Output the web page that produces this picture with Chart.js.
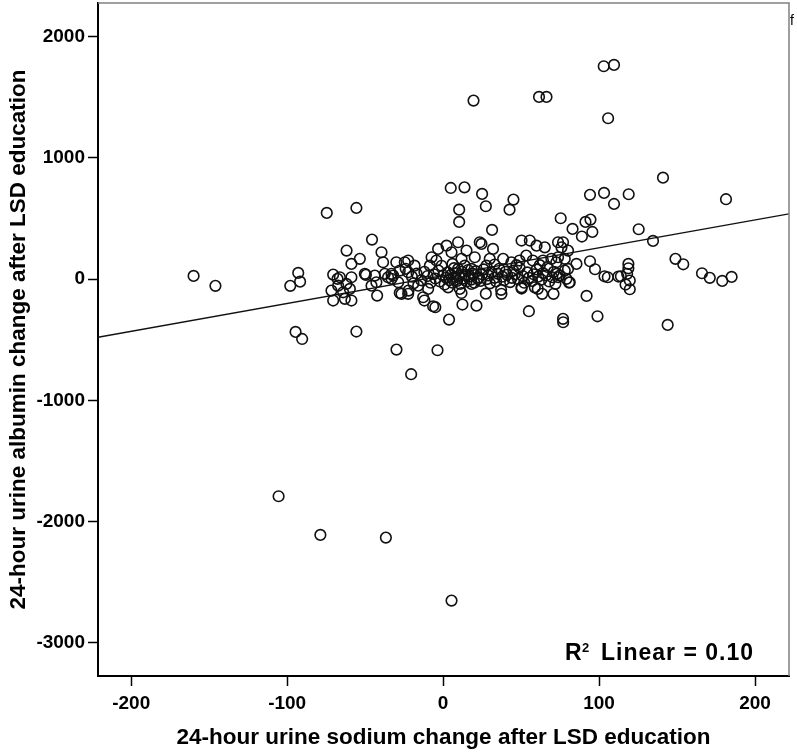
<!DOCTYPE html>
<html>
<head>
<meta charset="utf-8">
<script src="https://cdn.jsdelivr.net/npm/chart.js@4.4.1/dist/chart.umd.min.js"></script>
<style>
  html, body { margin: 0; padding: 0; background: #fff; }
  canvas { display: block; }
</style>
</head>
<body>
<canvas id="scatter" width="797" height="752"></canvas>
<script>
// tick labels
const xTicks = [-200, -100, 0, 100, 200];
const yTicks = [-3000, -2000, -1000, 0, 1000, 2000];

// 24-hour urine sodium change (x) and albumin change (y)
const sodium = [
  -160, -146, -105.5, -78.7, -36.7, 5.4,
  -98, -92.9, -91.7, -94.6, -90.4,
  -74.6, -55.6, -45.6, -61.9, -53.4, -58.8, -39.5, -38.5, -30, -24.6,
  -70.5, -66.2, -58.8, -50.2, -43.8, -37.4, -33.1, -27.8, -22.4,
  -67.3, -59.8, -71.6, -64.1,
  -45.9, -42.8, -33.1, -28.8, -26.7, -22.4,
  -70.5, -63, -58.8,
  -55.6, -42.3, -29.9, -20.5, -3.6, 3.8,
  -67.7, -62, -35.3, -32, -49.5,
  9.6, 2.2, -3.2, 5.4, 15, 20.3, 23.5, -7.4, -22.4, -18.3, -4.3, -8.5, 11.8, 13.9, 18.2, 9.6,
  -16, -9.6, 3.2, 10.7, 18.2, 22.4,
  -12.8, -12, -6.4, -5, 11.8, 12.4, 21.4, -27.8, -22.2,
  19.5, 61.5, 66.3, 103, 109.6, 105.8,
  4.9, 13.7, 25, 27.4, 10.3, 10.3, 45.1, 42.6, 31.4,
  94.2, 103.2, 109.6, 119, 141, 181.4,
  75.4, 83, 89, 91.3, 94.5, 95.7, 125.4, 134.6,
  149, 154, 166, 171, 179, 185,
  144, 99, 77, 55, 92,
  118.8, 118.8, 118, 119.7, 119.7, 117,
  103.5, 105.6, 112.4, 114,
  94.2, 97.4,
  27.4, 37.4, 37.2, 50.3, 63.5, 70.8, 60.7, 80.8, 85.5, 72,
  50.3, 55.6, 59.9, 65.2, 73.7, 24.6, 32, 29.9, 38.5, 43.8, 49, 53.3, 57.5, 64, 69.4, 72.6, 27.8,
  50.3, 58.8,
  76.9, 75.9, 80.1, 73.7, 78, 78, 80.1, 74.8, 73.7, 79.1, 81.2, 76.9,
  -20, -17, -14, -12, -10, -8, -6, -5, -3, -2, 0, 1, 2, 3, 4, 5, 6, 7, 8, 8,
  9, 10, 11, 12, 13, 14, 15, 16, 17, 18, 19, 20, 21, 23, 24, 25, 26, 28, 29, 30,
  31, 33, 34, 35, 36, 38, 39, 40, 41, 43, 44, 45, 46, 48, 49, 51, 52, 54, 55, 57,
  58, 60, 61, 63, 64, 66, 67, 68, 70, 71, 73, -24, -19, -1, 6, 33, 47, 62
];
const albumin = [
  26, -56, -1792, -2111, -2133, -2653,
  -56, 51, -21, -436, -494,
  546, 587, 326, 235, 167, 125, 221, 139, 139, 139,
  37, 15, 15, 43, 29, 43, 43, 70, 56,
  -54, -81, -95, -109,
  -54, -26, 2, -26, -122, -122,
  -177, -163, -177,
  -433, -136, -582, -785, -587, -334,
  2, -40, 15, 29, 35,
  304, 276, 249, 221, 235, 180, 304, 180, 153, 111, 153, 111, 167, 111, 84, 84,
  -54, -81, -68, -81, -40, 2,
  -150, -177, -224, -232, -115, -210, -219, -114, -95,
  1473, 1503, 1503, 1756, 1767, 1327,
  752, 757, 703, 601, 573, 472, 656, 573, 406,
  695, 711, 620, 700, 837, 659,
  502, 414, 351, 472, 491, 389, 411, 315,
  167, 122, 48, 10, -15, 18,
  -378, -307, -356, -265, -139,
  125, 89, 43, -12, -84, -45,
  23, 15, 21, 23,
  147, 81,
  -120, -122, -89, -78, -122, -122, -81, -29, 125, -40,
  318, 318, 276, 262, 304, 290, 249, 167, 167, 139, 153, 194, 153, 153, 167, 139, 111,
  -68, -68,
  304, 262, 235, 180, 167, 70, 84, 29, 15, 2, -26, -328,
  20, 45, -10, 60, 25, -30, 40, 5, 70, -20, 30, -45, 10, 55, -10, 35, -30, 90, 15, 50,
  -15, 25, -40, 60, 5, 35, -20, 75, 20, -5, 45, -30, 65, 15, -15, 40, 80, 0, 30, -35,
  55, 10, -20, 45, 85, 20, -10, 60, 35, -25, 10, 70, 40, 0, 95, 25, -30, 55, 10, -15,
  40, 80, 20, -5, 50, 30, 100, -20, 15, 60, 45, 85, -35, 110, 125, 120, 115, 115
];

// linear fit line ends (left and right edge of the plot)
const fitX = [-221.3, 221.8];
const fitY = [-480, 538];

const fontFamily = '"Liberation Sans", Arial, Helvetica, sans-serif';

const framePlugin = {
  id: 'frame',
  afterDraw(chart) {
    const { ctx, chartArea: a } = chart;
    ctx.save();
    // grey top and right edges of the box
    ctx.strokeStyle = '#808080';
    ctx.lineWidth = 1.5;
    ctx.beginPath();
    ctx.moveTo(a.left, a.top);
    ctx.lineTo(a.right, a.top);
    ctx.lineTo(a.right, a.bottom);
    ctx.stroke();

    // "R² Linear = 0.10" with a full-size superscript like SPSS draws it
    ctx.fillStyle = '#000';
    ctx.textBaseline = 'alphabetic';
    ctx.textAlign = 'left';
    ctx.font = 'bold 23px ' + fontFamily;
    ctx.fillText('R', 565, 660);
    ctx.font = 'bold 13px ' + fontFamily;
    ctx.fillText('2', 582, 652);
    ctx.font = 'bold 23px ' + fontFamily;
    ctx.textAlign = 'right';
    if ('letterSpacing' in ctx) ctx.letterSpacing = '1px';
    ctx.fillText('Linear = 0.10', 754, 660);
    if ('letterSpacing' in ctx) ctx.letterSpacing = '0px';

    ctx.font = '14px ' + fontFamily;
    ctx.textAlign = 'left';
    ctx.fillText('f', 790, 25);
    ctx.restore();
  }
};

function fixedTicks(values) {
  return scale => { scale.ticks = values.map(v => ({ value: v })); };
}

// keep the plot box where the figure has it: no extra room for label overhang
function fixedSize(prop, size) {
  return scale => {
    scale[prop] = size;
    scale.paddingTop = 0;
    scale.paddingBottom = 0;
    scale.paddingLeft = 0;
    scale.paddingRight = 0;
  };
}

window.onload = function () {
  const ctx = document.getElementById('scatter').getContext('2d');

  new Chart(ctx, {
    type: 'scatter',
    data: {
      datasets: [
        {
          data: sodium.map((x, i) => ({ x: x, y: albumin[i] })),
          pointRadius: 5.3,
          pointHoverRadius: 5.3,
          borderWidth: 1.6,
          borderColor: '#111',
          backgroundColor: 'rgba(0,0,0,0)'
        },
        {
          type: 'line',
          data: fitX.map((x, i) => ({ x: x, y: fitY[i] })),
          borderColor: '#111',
          borderWidth: 1.3,
          pointRadius: 0,
          fill: false
        }
      ]
    },
    options: {
      responsive: false,
      animation: false,
      devicePixelRatio: 1,
      layout: { autoPadding: false, padding: { top: 3, right: 8, left: 0, bottom: 0 } },
      plugins: {
        legend: { display: false },
        tooltip: { enabled: false }
      },
      scales: {
        x: {
          type: 'linear',
          min: -221.3,
          max: 221.8,
          afterBuildTicks: fixedTicks(xTicks),
          afterFit: fixedSize('height', 76),
          grid: { drawOnChartArea: false, drawTicks: true, tickLength: 10, tickColor: '#000', tickWidth: 1.5 },
          border: { color: '#000', width: 2 },
          ticks: {
            color: '#000', padding: 6,
            font: { family: fontFamily, size: 19, weight: 'bold' },
            callback: v => String(v)
          },
          title: {
            display: true,
            text: '24-hour urine sodium change after LSD education',
            color: '#000',
            padding: { top: 0, bottom: 1 },
            font: { family: fontFamily, size: 22.5, weight: 'bold' }
          }
        },
        y: {
          type: 'linear',
          min: -3275,
          max: 2278,
          afterBuildTicks: fixedTicks(yTicks),
          afterFit: fixedSize('width', 98),
          grid: { drawOnChartArea: false, drawTicks: true, tickLength: 10, tickColor: '#000', tickWidth: 1.5 },
          border: { color: '#000', width: 2 },
          ticks: {
            color: '#000', padding: 3,
            font: { family: fontFamily, size: 19, weight: 'bold' },
            callback: v => String(v)
          },
          title: {
            display: true,
            text: '24-hour urine albumin change after LSD education',
            color: '#000',
            padding: { top: 5, bottom: 0 },
            font: { family: fontFamily, size: 22.5, weight: 'bold' }
          }
        }
      }
    },
    plugins: [framePlugin]
  });
};
</script>
</body>
</html>
